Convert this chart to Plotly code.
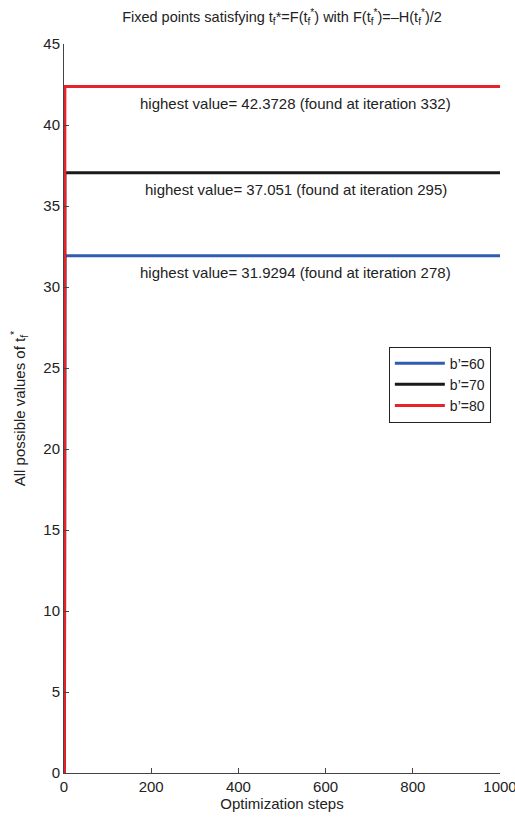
import plotly.graph_objects as go

# Optimization steps at which each run is sampled
steps = [1, 2, 1000]

# Parameter values b' for each run
b_values = [60, 70, 80]

# Highest fixed point found in each run, and the iteration it was found at
highest = [31.9294, 37.051, 42.3728]
found_at = [278, 295, 332]

colors = ["#2f5cb0", "#1a1a1a", "#e8212b"]

x_ticks = [0, 200, 400, 600, 800, 1000]
y_ticks = [0, 5, 10, 15, 20, 25, 30, 35, 40, 45]

FONT = "Liberation Sans, Arial, Helvetica, sans-serif"
TEXT = "#222222"

fig = go.Figure()

for b, h, c in zip(b_values, highest, colors):
    fig.add_trace(go.Scatter(
        x=steps,
        y=[0, h, h],
        mode="lines",
        line=dict(color=c, width=3),
        name=f"b\u2019={b}",
    ))

for h, it in zip(highest, found_at):
    fig.add_annotation(
        x=532, y=h, xref="x", yref="y",
        text=f"highest value= {h:g} (found at iteration {it})",
        showarrow=False, yshift=-17,
        font=dict(family=FONT, size=15, color=TEXT),
    )

axis_common = dict(
    showline=True, linecolor="#444444", linewidth=1,
    ticks="inside", ticklen=5, tickcolor="#444444",
    showgrid=False, zeroline=False, mirror=False,
    ticklabeloverflow="allow", automargin=False,
    tickfont=dict(family=FONT, size=15, color=TEXT),
)

fig.update_layout(
    width=515, height=817,
    margin=dict(l=64, r=15, t=44, b=44),
    paper_bgcolor="white", plot_bgcolor="white",
    title=dict(
        text="Fixed points satisfying t<sub>f</sub>*=F(t<sub>f</sub><sup>*</sup>) with "
             "F(t<sub>f</sub><sup>*</sup>)=\u2013H(t<sub>f</sub><sup>*</sup>)/2",
        x=0.5, xref="paper", xanchor="center",
        y=1 - 17 / 817, yanchor="middle",
        font=dict(family=FONT, size=14.5, color=TEXT),
    ),
    xaxis=dict(
        range=[0, 1000], tickvals=x_ticks,
        title=dict(text="Optimization steps", standoff=3,
                   font=dict(family=FONT, size=15, color=TEXT)),
        **axis_common,
    ),
    yaxis=dict(
        range=[0, 45], tickvals=y_ticks,
        title=dict(text="All possible values of t<sub>f</sub><sup>*</sup>", standoff=14,
                   font=dict(family=FONT, size=15, color=TEXT)),
        **axis_common,
    ),
    legend=dict(
        x=0.979, y=0.585, xanchor="right", yanchor="top",
        bgcolor="white", bordercolor=TEXT, borderwidth=1,
        font=dict(family=FONT, size=14, color=TEXT),
        tracegroupgap=0, itemwidth=50,
    ),
    showlegend=True,
)

fig.write_html("out.html")
